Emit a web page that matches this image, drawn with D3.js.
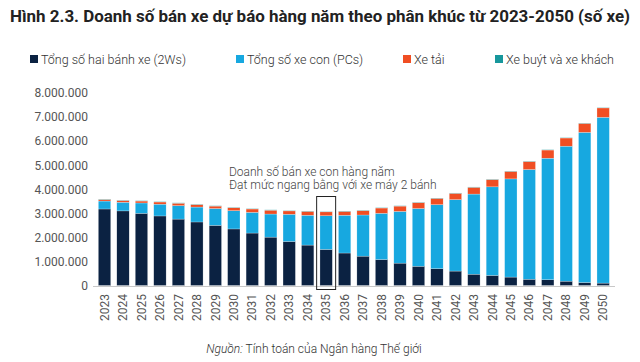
<!DOCTYPE html>
<html>
<head>
<meta charset="utf-8">
<script src="https://cdn.jsdelivr.net/npm/d3@7"></script>
<style>
  html, body { margin: 0; padding: 0; background: #fff; }
  svg { display: block; font-family: Roboto, "Noto Sans", sans-serif; }
</style>
</head>
<body>
<svg id="chart" width="640" height="362"></svg>
<script>
const years = ["2023","2024","2025","2026","2027","2028","2029","2030","2031","2032","2033","2034","2035","2036","2037","2038","2039","2040","2041","2042","2043","2044","2045","2046","2047","2048","2049","2050"];
const twoWheelers = [3180000,3100000,3000000,2890000,2760000,2640000,2500000,2350000,2180000,2010000,1830000,1680000,1500000,1350000,1220000,1080000,930000,800000,700000,600000,470000,420000,350000,260000,240000,180000,125000,100000];
const passengerCars = [330000,360000,430000,490000,560000,620000,700000,760000,860000,960000,1130000,1240000,1400000,1570000,1710000,1920000,2150000,2400000,2660000,2970000,3330000,3680000,4080000,4560000,5050000,5610000,6240000,6890000];
const trucks = [60000,70000,80000,90000,100000,100000,100000,120000,140000,160000,140000,160000,160000,160000,180000,220000,220000,240000,260000,260000,280000,300000,310000,330000,340000,340000,370000,390000];
const buses = [15000,15000,15000,15000,15000,15000,15000,15000,15000,15000,15000,15000,15000,15000,15000,15000,15000,15000,15000,15000,15000,15000,15000,15000,15000,15000,15000,15000];
const seriesNames = ["Tổng số hai bánh xe (2Ws)","Tổng số xe con (PCs)","Xe tải","Xe buýt và xe khách"];
const seriesColors = ["#0b2242","#17a8e0","#f04e23","#17979c"];
const yTicks = [0,1000000,2000000,3000000,4000000,5000000,6000000,7000000,8000000];
const titleText = "Hình 2.3. Doanh số bán xe dự báo hàng năm theo phân khúc từ 2023-2050 (số xe)";
const annotationLines = ["Doanh số bán xe con hàng năm","Đạt mức ngang bằng với xe máy 2 bánh"];
const highlightYear = "2035";

const svg = d3.select("#chart");

// Title
svg.append("text")
  .attr("x", 10).attr("y", 22)
  .attr("textLength", 620).attr("lengthAdjust", "spacingAndGlyphs")
  .style("font-size", "16px").style("font-weight", "700").style("fill", "#222")
  .text(titleText);

// Legend
const legendX = [30, 236, 403, 495];
seriesNames.forEach((n, i) => {
  const g = svg.append("g").attr("transform", `translate(${legendX[i]},59)`);
  g.append("rect").attr("x", 0).attr("y", -4).attr("width", 8).attr("height", 8).attr("fill", seriesColors[i]);
  g.append("text").attr("x", 11).attr("y", 4.5)
    .style("font-size", "12.5px").style("fill", "#333").style("font-weight", "300")
    .text(n);
});

// Data table
const data = years.map((y, i) => ({ year: y, w2: twoWheelers[i], pc: passengerCars[i], truck: trucks[i], bus: buses[i] }));
const keys = ["w2","pc","truck","bus"];
const stacked = d3.stack().keys(keys)(data);

const x = d3.scaleBand().domain(years).range([95.3, 612.4]).paddingInner(0.33).paddingOuter(0.165);
const y = d3.scaleLinear().domain([0, 8000000]).range([285.5, 93]);

// Y axis labels
const fmt = v => d3.format(",")(v).replace(/,/g, ".");
const yAxis = svg.append("g").attr("transform", "translate(92,0)")
  .call(d3.axisLeft(y).tickValues(yTicks).tickFormat(fmt).tickSize(0).tickPadding(4));
yAxis.select(".domain").remove();
yAxis.selectAll("text").style("font-size", "12px").style("fill", "#555").style("font-family", "Roboto, sans-serif");

// Bars
svg.append("g").selectAll("g").data(stacked).join("g")
  .attr("fill", (d, i) => seriesColors[i])
  .selectAll("rect").data(d => d).join("rect")
  .attr("x", d => x(d.data.year))
  .attr("width", x.bandwidth())
  .attr("y", d => y(d[1]))
  .attr("height", d => Math.max(0, y(d[0]) - y(d[1])))
  .attr("stroke", "#ffffff").attr("stroke-width", 0.4).attr("stroke-opacity", 0.6);

// X axis
const xAxis = svg.append("g").attr("transform", "translate(0,286)")
  .call(d3.axisBottom(x).tickSize(0).tickPadding(0));
xAxis.select(".domain").attr("stroke", "#c8c8c8").attr("d", "M93,0.5H615");
xAxis.selectAll("text")
  .attr("transform", "rotate(-90)")
  .attr("x", -8).attr("y", 0).attr("dy", "0.35em")
  .style("text-anchor", "end")
  .style("font-size", "12px").style("fill", "#555").style("font-family", "Roboto, sans-serif");

// Highlight box
const hx = x(highlightYear) + x.bandwidth() / 2;
const hi = years.indexOf(highlightYear);
const hTop = y(twoWheelers[hi] + passengerCars[hi] + trucks[hi] + buses[hi]) - 15;
svg.append("rect")
  .attr("x", hx - 9.5).attr("y", hTop)
  .attr("width", 19).attr("height", 289.5 - hTop)
  .attr("fill", "none").attr("stroke", "#222").attr("stroke-width", 1);

// Annotation
annotationLines.forEach((t, i) => {
  svg.append("text").attr("x", 229).attr("y", 176 + i * 13)
    .style("font-size", "12px").style("fill", "#444").style("font-weight", "300")
    .text(t);
});

// Source
const src = svg.append("text").attr("x", 314).attr("y", 353).attr("text-anchor", "middle")
  .style("font-size", "12px").style("fill", "#333").style("font-weight", "300");
src.append("tspan").style("font-style", "italic").text("Nguồn:");
src.append("tspan").text(" Tính toán của Ngân hàng Thế giới");
</script>
</body>
</html>
